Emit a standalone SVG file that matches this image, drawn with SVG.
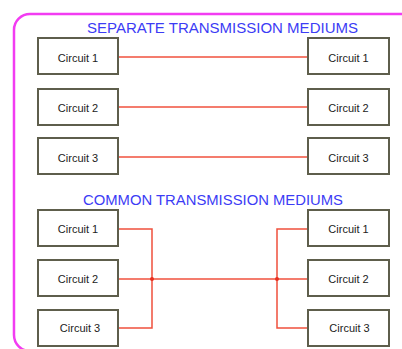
<svg xmlns="http://www.w3.org/2000/svg" width="402" height="349" viewBox="0 0 402 349">
  <style>
    .frame { fill: none; stroke: #f23cf2; stroke-width: 2.5; }
    .box { fill: #ffffff; stroke: #5e5e4c; stroke-width: 2; }
    .lbl { font-family: "Liberation Sans", Arial, sans-serif; font-size: 11px; fill: #222222; text-anchor: middle; }
    .title { font-family: "Liberation Sans", Arial, sans-serif; font-size: 14px; fill: #3c3cf5; }
    .wire { fill: none; stroke: #f0503c; stroke-width: 1.5; }
    .dot { fill: #e83020; }
  </style>
  <rect width="402" height="349" fill="#ffffff"/>

  <!-- outer frame, right and bottom edges run off the canvas -->
  <rect class="frame" x="14" y="14" width="420" height="337" rx="16" ry="16"/>

  <text class="title" x="87" y="33" textLength="271" lengthAdjust="spacingAndGlyphs">SEPARATE TRANSMISSION MEDIUMS</text>
  <text class="title" x="83" y="205" textLength="260" lengthAdjust="spacingAndGlyphs">COMMON TRANSMISSION MEDIUMS</text>

  <g id="connectors">
    <!-- separate links -->
    <line class="wire" x1="119" y1="57" x2="307" y2="57"/>
    <line class="wire" x1="119" y1="107" x2="307" y2="107"/>
    <line class="wire" x1="119" y1="157" x2="307" y2="157"/>
    <!-- shared link, left fan-in -->
    <polyline class="wire" points="119,229 152,229 152,328 119,328"/>
    <!-- shared link, right fan-out -->
    <polyline class="wire" points="307,229 277,229 277,328 307,328"/>
    <line class="wire" x1="119" y1="279" x2="307" y2="279"/>
    <circle class="dot" cx="152" cy="279" r="2"/>
    <circle class="dot" cx="277" cy="279" r="2"/>
  </g>

  <!-- separate mediums: left column -->
  <g id="sep-left-1"><rect class="box" x="38" y="38" width="80" height="36"/><text class="lbl" x="78" y="61.5">Circuit 1</text></g>
  <g id="sep-left-2"><rect class="box" x="38" y="89" width="80" height="36"/><text class="lbl" x="78" y="111.5">Circuit 2</text></g>
  <g id="sep-left-3"><rect class="box" x="38" y="138" width="80" height="36"/><text class="lbl" x="78" y="161.5">Circuit 3</text></g>
  <!-- separate mediums: right column -->
  <g id="sep-right-1"><rect class="box" x="308" y="38" width="81" height="36"/><text class="lbl" x="348.5" y="61.5">Circuit 1</text></g>
  <g id="sep-right-2"><rect class="box" x="308" y="89" width="81" height="36"/><text class="lbl" x="348.5" y="111.5">Circuit 2</text></g>
  <g id="sep-right-3"><rect class="box" x="308" y="138" width="81" height="36"/><text class="lbl" x="348.5" y="161.5">Circuit 3</text></g>

  <!-- common medium: left column -->
  <g id="com-left-1"><rect class="box" x="38" y="210" width="80" height="36"/><text class="lbl" x="78" y="233">Circuit 1</text></g>
  <g id="com-left-2"><rect class="box" x="38" y="260" width="80" height="36"/><text class="lbl" x="78" y="283">Circuit 2</text></g>
  <g id="com-left-3"><rect class="box" x="38" y="310" width="80" height="36"/><text class="lbl" x="80" y="332">Circuit 3</text></g>
  <!-- common medium: right column -->
  <g id="com-right-1"><rect class="box" x="308" y="210" width="81" height="36"/><text class="lbl" x="348.5" y="233">Circuit 1</text></g>
  <g id="com-right-2"><rect class="box" x="308" y="260" width="81" height="36"/><text class="lbl" x="348.5" y="283">Circuit 2</text></g>
  <g id="com-right-3"><rect class="box" x="308" y="310" width="81" height="36"/><text class="lbl" x="349.5" y="332">Circuit 3</text></g>
</svg>
